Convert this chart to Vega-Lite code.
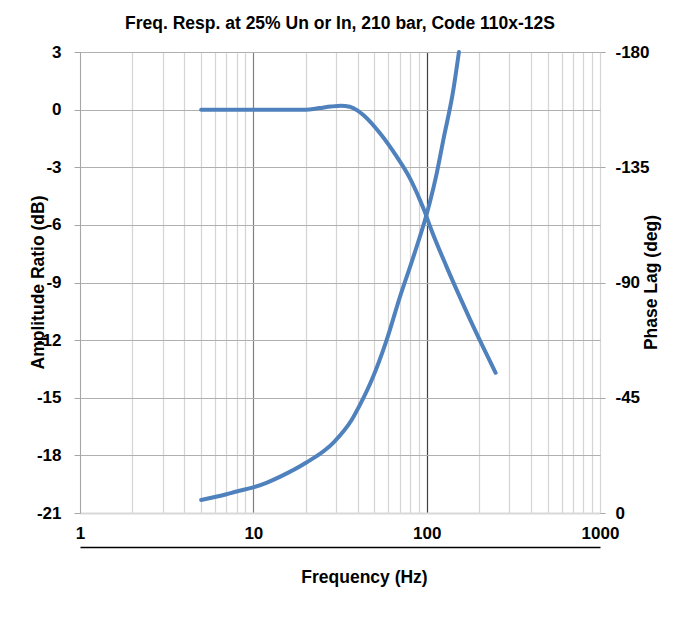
{
  "$schema": "https://vega.github.io/schema/vega-lite/v6.json",
  "width": 520,
  "height": 461,
  "autosize": {"type": "none"},
  "padding": {"left": 80, "top": 52, "right": 74, "bottom": 114},
  "background": "white",
  "config": {
    "view": {"stroke": null},
    "font": "Liberation Sans",
    "axis": {"labelFont": "Liberation Sans", "titleFont": "Liberation Sans", "labelFontWeight": "bold", "titleFontWeight": "bold", "labelColor": "#000000", "titleColor": "#000000"}
  },
  "title": {"text": "Freq. Resp. at 25% Un or In, 210 bar, Code 110x-12S", "fontSize": 17.5, "fontWeight": "bold", "font": "Liberation Sans", "color": "#000000", "offset": 11, "anchor": "middle"},
  "datasets": {
    "amp": [
      {"freq": 5, "db": 0},
      {"freq": 7, "db": 0},
      {"freq": 10, "db": 0},
      {"freq": 15, "db": 0},
      {"freq": 20, "db": 0},
      {"freq": 24, "db": 0.08},
      {"freq": 28, "db": 0.16},
      {"freq": 32, "db": 0.2},
      {"freq": 36, "db": 0.15},
      {"freq": 40, "db": -0.05},
      {"freq": 43.1, "db": -0.28},
      {"freq": 53.8, "db": -1.23},
      {"freq": 67.2, "db": -2.45},
      {"freq": 80.1, "db": -3.58},
      {"freq": 91.5, "db": -4.71},
      {"freq": 97.8, "db": -5.35},
      {"freq": 104.5, "db": -6.07},
      {"freq": 130, "db": -8.16},
      {"freq": 156, "db": -9.79},
      {"freq": 177.8, "db": -10.92},
      {"freq": 210, "db": -12.3},
      {"freq": 250, "db": -13.7}
    ],
    "phase": [
      {"freq": 5, "deg": -5.1},
      {"freq": 7, "deg": -7.3},
      {"freq": 8, "deg": -8.4},
      {"freq": 10, "deg": -10},
      {"freq": 12, "deg": -11.9},
      {"freq": 14.3, "deg": -14.2},
      {"freq": 20, "deg": -19.5},
      {"freq": 29, "deg": -27.5},
      {"freq": 36.9, "deg": -36.3},
      {"freq": 41.2, "deg": -42.2},
      {"freq": 48.2, "deg": -51.9},
      {"freq": 58.8, "deg": -67.6},
      {"freq": 70.2, "deg": -84.5},
      {"freq": 80.1, "deg": -96},
      {"freq": 90, "deg": -106.5},
      {"freq": 97.8, "deg": -114.4},
      {"freq": 104.5, "deg": -121.5},
      {"freq": 114.3, "deg": -132.6},
      {"freq": 124.7, "deg": -145.6},
      {"freq": 142.5, "deg": -165.2},
      {"freq": 153.5, "deg": -180}
    ]
  },
  "layer": [
    {
      "data": {"name": "amp"},
      "mark": {"type": "line", "color": "#4F81BD", "strokeWidth": 4, "strokeCap": "round", "interpolate": "monotone"},
      "encoding": {
        "x": {
          "field": "freq", "type": "quantitative",
          "scale": {"type": "log", "domain": [1, 1000], "nice": false},
          "axis": {
            "values": [1,2,3,4,5,6,7,8,9,10,20,30,40,50,60,70,80,90,100,200,300,400,500,600,700,800,900,1000],
            "labelExpr": "(datum.value == 1 || datum.value == 10 || datum.value == 100 || datum.value == 1000) ? ('' + datum.value) : ''",
            "labelFontSize": 17,
            "labelPadding": 12,
            "labelFlush": false,
            "labelOverlap": false,
            "ticks": false,
            "domainColor": "#D9D9D9",
            "domainWidth": 2,
            "grid": true,
            "gridColor": {"condition": [{"test": "datum.value == 100", "value": "#404040"}, {"test": "datum.value == 10", "value": "#808080"}], "value": "#D4D4D4"},
            "gridWidth": 1.2,
            "title": null
          }
        },
        "y": {
          "field": "db", "type": "quantitative",
          "scale": {"domain": [-21, 3], "nice": false, "zero": false},
          "axis": {
            "values": [-21,-18,-15,-12,-9,-6,-3,0,3],
            "labelExpr": "'' + datum.value",
            "labelFontSize": 17,
            "labelPadding": 13,
            "tickSize": 6,
            "tickColor": "#A6A6A6",
            "domainColor": "#A6A6A6",
            "grid": true,
            "gridColor": "#B0B0B0",
            "gridWidth": 1,
            "title": "Amplitude Ratio (dB)",
            "titleFontSize": 17.5,
            "titleAngle": -90,
            "titleX": -42,
            "titleY": 230,
            "titleBaseline": "middle",
            "titleAlign": "center"
          }
        }
      }
    },
    {
      "data": {"name": "phase"},
      "mark": {"type": "line", "color": "#4F81BD", "strokeWidth": 4, "strokeCap": "round", "interpolate": "monotone"},
      "encoding": {
        "x": {
          "field": "freq", "type": "quantitative",
          "scale": {"type": "log", "domain": [1, 1000], "nice": false},
          "axis": {
            "orient": "bottom",
            "offset": 34,
            "labels": false,
            "ticks": false,
            "grid": false,
            "domainColor": "#000000",
            "domainWidth": 1.5,
            "title": "Frequency (Hz)",
            "titleFontSize": 17.5,
            "titlePadding": 21,
            "titleX": 284,
            "titleAlign": "center"
          }
        },
        "y": {
          "field": "deg", "type": "quantitative",
          "scale": {"domain": [-180, 0], "reverse": true, "nice": false, "zero": false},
          "axis": {
            "orient": "right",
            "values": [-180,-135,-90,-45,0],
            "labelExpr": "'' + datum.value",
            "labelFontSize": 17,
            "labelPadding": 10,
            "tickSize": 5,
            "tickColor": "#A6A6A6",
            "domain": false,
            "grid": false,
            "title": "Phase Lag (deg)",
            "titleFontSize": 17.5,
            "titleAngle": -90,
            "titleX": 51,
            "titleY": 230,
            "titleBaseline": "middle",
            "titleAlign": "center"
          }
        }
      }
    }
  ],
  "resolve": {"scale": {"y": "independent"}, "axis": {"x": "independent", "y": "independent"}}
}
